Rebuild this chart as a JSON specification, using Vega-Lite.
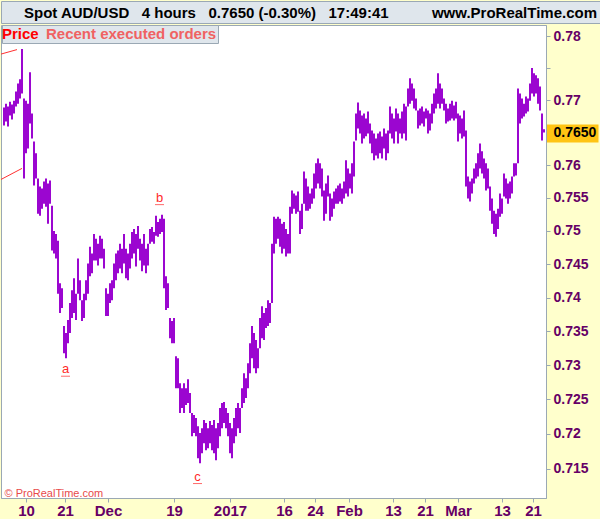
{
  "$schema": "https://vega.github.io/schema/vega-lite/v6.json",
  "background": "#ffffcc",
  "padding": 0,
  "spacing": 0,
  "config": {"font": "Liberation Sans"},
  "resolve": {"legend": {"color": "independent"}, "scale": {"color": "independent"}},
  "vconcat": [
    {
      "width": 600,
      "height": 22,
      "view": {"fill": "#dfe6ec", "stroke": "#9aa8b4"},
      "data": {"values": [
        {"side": "left", "t": "Spot AUD/USD\u00a0\u00a0\u00a04 hours\u00a0\u00a0\u00a00.7650 (-0.30%)\u00a0\u00a0\u00a017:49:41"},
        {"side": "right", "t": "www.ProRealTime.com"}
      ]},
      "encoding": {
        "x": {"field": "side", "type": "nominal", "scale": {"type": "point", "domain": ["left", "right"], "padding": 0}, "axis": null},
        "text": {"field": "t"}
      },
      "layer": [
        {"transform": [{"filter": "datum.side === 'left'"}], "mark": {"type": "text", "align": "left", "baseline": "middle", "dx": 23, "dy": 1, "fontSize": 15, "fontWeight": "bold", "color": "#000000"}},
        {"transform": [{"filter": "datum.side === 'right'"}], "mark": {"type": "text", "align": "right", "baseline": "middle", "dx": -4, "dy": 1, "fontSize": 15, "fontWeight": "bold", "color": "#000000"}}
      ]
    },
    {
      "width": 545,
      "height": 473,
      "view": {"fill": "#ffffff", "stroke": "#9aa8b4"},
      "layer": [
        {
          "data": {"values": [
{"i":1,"h":0.76885,"l":0.76609},{"i":2,"h":0.76946,"l":0.7667},{"i":3,"h":0.769,"l":0.76594},{"i":4,"h":0.76977,"l":0.76762},{"i":5,"h":0.76931,"l":0.76701},{"i":6,"h":0.76992,"l":0.76793},{"i":7,"h":0.77134,"l":0.769},{"i":8,"h":0.7726,"l":0.76946},{"i":9,"h":0.77323,"l":0.77024},{"i":10,"h":0.77795,"l":0.77102},
{"i":11,"h":0.77024,"l":0.75797},{"i":12,"h":0.76992,"l":0.7618},{"i":13,"h":0.76946,"l":0.76256},{"i":14,"h":0.77433,"l":0.7664},{"i":15,"h":0.76793,"l":0.7641},{"i":16,"h":0.76364,"l":0.75689},{"i":17,"h":0.7618,"l":0.75797},{"i":18,"h":0.75797,"l":0.7526},{"i":19,"h":0.75674,"l":0.75229},{"i":20,"h":0.75643,"l":0.75337},
{"i":21,"h":0.75751,"l":0.75413},{"i":22,"h":0.75797,"l":0.75367},{"i":23,"h":0.7572,"l":0.75107},{"i":24,"h":0.75766,"l":0.75413},{"i":25,"h":0.75383,"l":0.74704},{"i":26,"h":0.75,"l":0.74659},{"i":27,"h":0.74956,"l":0.74585},{"i":28,"h":0.74852,"l":0.7406},{"i":29,"h":0.74215,"l":0.73771},{"i":30,"h":0.7414,"l":0.73845},
{"i":31,"h":0.73578,"l":0.73178},{"i":32,"h":0.73475,"l":0.73104},{"i":33,"h":0.73667,"l":0.73326},{"i":34,"h":0.73919,"l":0.73475},{"i":35,"h":0.74111,"l":0.73697},{"i":36,"h":0.74289,"l":0.73771},{"i":37,"h":0.7406,"l":0.73667},{"i":38,"h":0.74585,"l":0.7406},{"i":39,"h":0.7426,"l":0.73963},{"i":40,"h":0.73963,"l":0.73652},
{"i":41,"h":0.7406,"l":0.73697},{"i":42,"h":0.7426,"l":0.73963},{"i":43,"h":0.74511,"l":0.7406},{"i":44,"h":0.74763,"l":0.74319},{"i":45,"h":0.74659,"l":0.74363},{"i":46,"h":0.74956,"l":0.74556},{"i":47,"h":0.74882,"l":0.74556},{"i":48,"h":0.74807,"l":0.74482},{"i":49,"h":0.74926,"l":0.74585},{"i":50,"h":0.74882,"l":0.74585},
{"i":51,"h":0.74733,"l":0.74437},{"i":52,"h":0.7414,"l":0.73726},{"i":53,"h":0.7406,"l":0.73726},{"i":54,"h":0.74215,"l":0.73919},{"i":55,"h":0.7426,"l":0.73963},{"i":56,"h":0.74511,"l":0.7414},{"i":57,"h":0.74659,"l":0.7426},{"i":58,"h":0.74704,"l":0.74363},{"i":59,"h":0.74807,"l":0.74437},{"i":60,"h":0.74733,"l":0.74363},
{"i":61,"h":0.74956,"l":0.74511},{"i":62,"h":0.74733,"l":0.74289},{"i":63,"h":0.74659,"l":0.7426},{"i":64,"h":0.74807,"l":0.74437},{"i":65,"h":0.74985,"l":0.74585},{"i":66,"h":0.7503,"l":0.74659},{"i":67,"h":0.74956,"l":0.74467},{"i":68,"h":0.75076,"l":0.74733},{"i":69,"h":0.74882,"l":0.74556},{"i":70,"h":0.74807,"l":0.74393},
{"i":71,"h":0.74956,"l":0.74482},{"i":72,"h":0.74733,"l":0.74363},{"i":73,"h":0.74807,"l":0.74482},{"i":74,"h":0.7503,"l":0.74807},{"i":75,"h":0.75061,"l":0.74837},{"i":76,"h":0.74985,"l":0.74807},{"i":77,"h":0.75229,"l":0.74926},{"i":78,"h":0.75137,"l":0.74911},{"i":79,"h":0.75183,"l":0.74956},{"i":80,"h":0.75245,"l":0.74985},
{"i":81,"h":0.75183,"l":0.7414},{"i":82,"h":0.74319,"l":0.73815},{"i":83,"h":0.74215,"l":0.73845},{"i":84,"h":0.73697,"l":0.734},{"i":85,"h":0.73652,"l":0.73326},{"i":86,"h":0.73697,"l":0.73326},{"i":87,"h":0.73134,"l":0.72665},{"i":88,"h":0.73104,"l":0.72665},{"i":89,"h":0.72738,"l":0.72302},{"i":90,"h":0.72665,"l":0.72374},
{"i":91,"h":0.72738,"l":0.72302},{"i":92,"h":0.72665,"l":0.72418},{"i":93,"h":0.72796,"l":0.72447},{"i":94,"h":0.72593,"l":0.72302},{"i":95,"h":0.72302,"l":0.71967},{"i":96,"h":0.72273,"l":0.72011},{"i":97,"h":0.72229,"l":0.71967},{"i":98,"h":0.72112,"l":0.71647},{"i":99,"h":0.72011,"l":0.71574},{"i":100,"h":0.72083,"l":0.7172},
{"i":101,"h":0.722,"l":0.71865},{"i":102,"h":0.72156,"l":0.71763},{"i":103,"h":0.72083,"l":0.71792},{"i":104,"h":0.72185,"l":0.71865},{"i":105,"h":0.72127,"l":0.71763},{"i":106,"h":0.722,"l":0.7172},{"i":107,"h":0.72083,"l":0.71618},{"i":108,"h":0.72156,"l":0.71792},{"i":109,"h":0.72374,"l":0.71967},{"i":110,"h":0.72447,"l":0.72083},
{"i":111,"h":0.72462,"l":0.72156},{"i":112,"h":0.72374,"l":0.72083},{"i":113,"h":0.72302,"l":0.71967},{"i":114,"h":0.72156,"l":0.7172},{"i":115,"h":0.72083,"l":0.71647},{"i":116,"h":0.72229,"l":0.71865},{"i":117,"h":0.72374,"l":0.71967},{"i":118,"h":0.72447,"l":0.72083},{"i":119,"h":0.72374,"l":0.72011},{"i":120,"h":0.72665,"l":0.72374},
{"i":121,"h":0.72884,"l":0.72447},{"i":122,"h":0.72811,"l":0.7252},{"i":123,"h":0.7303,"l":0.72665},{"i":124,"h":0.73326,"l":0.72884},{"i":125,"h":0.73578,"l":0.73104},{"i":126,"h":0.73475,"l":0.72956},{"i":127,"h":0.73371,"l":0.72884},{"i":128,"h":0.73252,"l":0.72956},{"i":129,"h":0.73697,"l":0.73252},{"i":130,"h":0.73874,"l":0.734},
{"i":131,"h":0.73771,"l":0.73371},{"i":132,"h":0.73845,"l":0.73549},{"i":133,"h":0.73963,"l":0.73578},{"i":134,"h":0.73919,"l":0.73623},{"i":135,"h":0.74807,"l":0.73919},{"i":136,"h":0.75214,"l":0.74659},{"i":137,"h":0.75183,"l":0.74807},{"i":138,"h":0.75214,"l":0.74882},{"i":139,"h":0.75183,"l":0.74763},{"i":140,"h":0.75107,"l":0.74659},
{"i":141,"h":0.75137,"l":0.74733},{"i":142,"h":0.7503,"l":0.74615},{"i":143,"h":0.74956,"l":0.74659},{"i":144,"h":0.75367,"l":0.74659},{"i":145,"h":0.75613,"l":0.7526},{"i":146,"h":0.75567,"l":0.75337},{"i":147,"h":0.75536,"l":0.7526},{"i":148,"h":0.75597,"l":0.75291},{"i":149,"h":0.75306,"l":0.74956},{"i":150,"h":0.75413,"l":0.7503},
{"i":151,"h":0.75904,"l":0.75413},{"i":152,"h":0.75797,"l":0.75306},{"i":153,"h":0.75674,"l":0.75306},{"i":154,"h":0.75567,"l":0.75337},{"i":155,"h":0.75643,"l":0.75413},{"i":156,"h":0.75873,"l":0.7549},{"i":157,"h":0.76027,"l":0.75643},{"i":158,"h":0.76103,"l":0.7572},{"i":159,"h":0.76027,"l":0.75643},{"i":160,"h":0.7595,"l":0.75521},
{"i":161,"h":0.75613,"l":0.75153},{"i":162,"h":0.7572,"l":0.7526},{"i":163,"h":0.75843,"l":0.75521},{"i":164,"h":0.75567,"l":0.75153},{"i":165,"h":0.7549,"l":0.75214},{"i":166,"h":0.75597,"l":0.75337},{"i":167,"h":0.75643,"l":0.75413},{"i":168,"h":0.75689,"l":0.75413},{"i":169,"h":0.7572,"l":0.75444},{"i":170,"h":0.75643,"l":0.75413},
{"i":171,"h":0.75751,"l":0.7549},{"i":172,"h":0.76073,"l":0.75567},{"i":173,"h":0.7595,"l":0.75521},{"i":174,"h":0.75873,"l":0.75643},{"i":175,"h":0.76027,"l":0.75567},{"i":176,"h":0.76364,"l":0.75827},{"i":177,"h":0.76793,"l":0.76379},{"i":178,"h":0.76962,"l":0.76563},{"i":179,"h":0.76839,"l":0.76486},{"i":180,"h":0.76762,"l":0.76333},
{"i":181,"h":0.76793,"l":0.7641},{"i":182,"h":0.76716,"l":0.76441},{"i":183,"h":0.76824,"l":0.76486},{"i":184,"h":0.7664,"l":0.76333},{"i":185,"h":0.76532,"l":0.7618},{"i":186,"h":0.76486,"l":0.76073},{"i":187,"h":0.7641,"l":0.76149},{"i":188,"h":0.76486,"l":0.76103},{"i":189,"h":0.76517,"l":0.7618},{"i":190,"h":0.7644,"l":0.76103},
{"i":191,"h":0.76563,"l":0.76256},{"i":192,"h":0.76486,"l":0.76073},{"i":193,"h":0.76532,"l":0.7618},{"i":194,"h":0.769,"l":0.76486},{"i":195,"h":0.76793,"l":0.7641},{"i":196,"h":0.76716,"l":0.76333},{"i":197,"h":0.7687,"l":0.76517},{"i":198,"h":0.76793,"l":0.76333},{"i":199,"h":0.76716,"l":0.76486},{"i":200,"h":0.76824,"l":0.7641},
{"i":201,"h":0.76946,"l":0.76486},{"i":202,"h":0.769,"l":0.76379},{"i":203,"h":0.77181,"l":0.769},{"i":204,"h":0.77339,"l":0.76946},{"i":205,"h":0.7726,"l":0.76992},{"i":206,"h":0.77181,"l":0.7687},{"i":207,"h":0.77024,"l":0.76839},{"i":208,"h":0.76839,"l":0.76563},{"i":209,"h":0.7687,"l":0.76609},{"i":210,"h":0.769,"l":0.7664},
{"i":211,"h":0.76824,"l":0.76594},{"i":212,"h":0.7687,"l":0.76716},{"i":213,"h":0.76839,"l":0.76486},{"i":214,"h":0.76793,"l":0.76532},{"i":215,"h":0.76946,"l":0.7664},{"i":216,"h":0.77102,"l":0.76793},{"i":217,"h":0.77181,"l":0.7687},{"i":218,"h":0.77417,"l":0.76946},{"i":219,"h":0.7726,"l":0.7687},{"i":220,"h":0.77181,"l":0.76946},
{"i":221,"h":0.77024,"l":0.76839},{"i":222,"h":0.76946,"l":0.7664},{"i":223,"h":0.7687,"l":0.7667},{"i":224,"h":0.76946,"l":0.76686},{"i":225,"h":0.76992,"l":0.76716},{"i":226,"h":0.76916,"l":0.76686},{"i":227,"h":0.76977,"l":0.76716},{"i":228,"h":0.76793,"l":0.76364},{"i":229,"h":0.76762,"l":0.76486},{"i":230,"h":0.76716,"l":0.7641},
{"i":231,"h":0.76839,"l":0.7644},{"i":232,"h":0.76532,"l":0.75674},{"i":233,"h":0.75827,"l":0.7549},{"i":234,"h":0.75751,"l":0.75444},{"i":235,"h":0.75797,"l":0.75567},{"i":236,"h":0.7595,"l":0.7572},{"i":237,"h":0.76027,"l":0.75797},{"i":238,"h":0.7618,"l":0.75827},{"i":239,"h":0.76333,"l":0.7595},{"i":240,"h":0.76211,"l":0.75873},
{"i":241,"h":0.76103,"l":0.75797},{"i":242,"h":0.76027,"l":0.75613},{"i":243,"h":0.7595,"l":0.75643},{"i":244,"h":0.75674,"l":0.75306},{"i":245,"h":0.7549,"l":0.75107},{"i":246,"h":0.75306,"l":0.74956},{"i":247,"h":0.7526,"l":0.74911},{"i":248,"h":0.75337,"l":0.7503},{"i":249,"h":0.75567,"l":0.75214},{"i":250,"h":0.7549,"l":0.7526},
{"i":251,"h":0.75873,"l":0.75521},{"i":252,"h":0.75797,"l":0.7549},{"i":253,"h":0.7572,"l":0.75413},{"i":254,"h":0.75751,"l":0.7549},{"i":255,"h":0.75827,"l":0.75567},{"i":256,"h":0.76027,"l":0.75827},{"i":257,"h":0.76027,"l":0.75843},{"i":258,"h":0.77181,"l":0.76027},{"i":259,"h":0.77102,"l":0.7664},{"i":260,"h":0.77024,"l":0.76716},
{"i":261,"h":0.76946,"l":0.76747},{"i":262,"h":0.77055,"l":0.76793},{"i":263,"h":0.77024,"l":0.76824},{"i":264,"h":0.7726,"l":0.76992},{"i":265,"h":0.775,"l":0.77102},{"i":266,"h":0.77417,"l":0.77055},{"i":267,"h":0.77386,"l":0.77102},{"i":268,"h":0.77339,"l":0.76946},{"i":269,"h":0.77213,"l":0.76839},{"i":270,"h":0.76793,"l":0.76379},
{"i":271,"h":0.7655,"l":0.765}
          ]},
          "mark": {"type": "rule", "strokeWidth": 2},
          "encoding": {
            "x": {
              "field": "i", "type": "quantitative",
              "scale": {"domain": [-0.5, 272], "nice": false, "zero": false},
              "axis": {
                "orient": "bottom",
                "values": [12, 31.5, 53, 86, 114, 141, 156.5, 173.5, 195.5, 211.5, 228, 250, 265.5],
                "labelExpr": "datum.value==12?'10':datum.value==31.5?'21':datum.value==53?'Dec':datum.value==86?'19':datum.value==114?'2017':datum.value==141?'16':datum.value==156.5?'24':datum.value==173.5?'Feb':datum.value==195.5?'13':datum.value==211.5?'21':datum.value==228?'Mar':datum.value==250?'13':'21'",
                "grid": false,
                "domainColor": "#9aa8b4",
                "tickColor": "#9aa8b4",
                "tickSize": 4,
                "labelColor": "#660066",
                "labelFont": "Liberation Sans",
                "labelFontSize": 15,
                "labelFontWeight": "bold",
                "labelPadding": 1,
                "labelFlush": false,
                "labelOverlap": false,
                "minExtent": 24,
                "maxExtent": 24,
                "title": "© ProRealTime.com",
                "titleX": 3,
                "titleY": -2,
                "titleAlign": "left",
                "titleAnchor": "start",
                "titleBaseline": "alphabetic",
                "titleColor": "#e84a4a",
                "titleFont": "Liberation Sans",
                "titleFontSize": 11,
                "titleFontWeight": "normal"
              }
            },
            "y": {
              "field": "h", "type": "quantitative",
              "scale": {"type": "log", "domain": [0.71077, 0.78173], "nice": false, "zero": false},
              "axis": {
                "orient": "right",
                "title": null,
                "values": [0.715, 0.72, 0.725, 0.73, 0.735, 0.74, 0.745, 0.75, 0.755, 0.76, 0.765, 0.77, 0.775, 0.78],
                "labelExpr": "datum.value==0.775?'':datum.value==0.765?'0.7650':format(datum.value,'.3~f')",
                "grid": false,
                "domainColor": "#9aa8b4",
                "tickColor": {"condition": {"test": "datum.value == 0.765", "value": "#ffc414"}, "value": "#9aa8b4"},
                "tickWidth": {"condition": {"test": "datum.value == 0.765", "value": 18}, "value": 1},
                "tickSize": {"condition": {"test": "datum.value == 0.765", "value": 52}, "value": 4},
                "labelPadding": {"condition": {"test": "datum.value == 0.765", "value": -45}, "value": 3},
                "labelColor": {"condition": {"test": "datum.value == 0.765", "value": "#000000"}, "value": "#660066"},
                "labelFont": "Liberation Sans",
                "labelFontSize": 14,
                "labelFontWeight": "bold",
                "labelBaseline": "middle",
                "labelFlush": false,
                "labelOverlap": false,
                "minExtent": 55,
                "maxExtent": 55
              }
            },
            "y2": {"field": "l"},
            "color": {
              "datum": "Price", "type": "nominal",
              "scale": {"domain": ["Price", "Recent executed orders"], "range": ["#9b06d0", "#ff3030"]},
              "legend": {
                "orient": "none",
                "legendX": 1,
                "legendY": 0,
                "direction": "horizontal",
                "title": null,
                "symbolType": "circle",
                "symbolSize": 0,
                "symbolOpacity": 0,
                "symbolStrokeWidth": 0,
                "labelFont": "Liberation Sans",
                "labelFontSize": 15,
                "labelFontWeight": "bold",
                "labelOffset": -16,
                "columnPadding": 7,
                "padding": 1,
                "fillColor": "#dfe6ec",
                "strokeColor": "#9aa8b4",
                "labelLimit": 300,
                "encode": {"labels": {"update": {"fill": {"signal": "datum.label === 'Price' ? '#ff0000' : '#f06262'"}}}}
              }
            }
          }
        },
        {
          "data": {"values": [
            {"g": "u", "i": -0.5, "p": 0.77717}, {"g": "u", "i": 7.5, "p": 0.77787},
            {"g": "d", "i": -0.5, "p": 0.75781}, {"g": "d", "i": 10, "p": 0.7595}
          ]},
          "mark": {"type": "line", "strokeWidth": 1, "clip": true},
          "encoding": {
            "x": {"field": "i", "type": "quantitative"},
            "y": {"field": "p", "type": "quantitative"},
            "detail": {"field": "g"},
            "color": {"datum": "Recent executed orders", "type": "nominal"}
          }
        },
        {
          "data": {"values": [
            {"i": 31.75, "p": 0.72884, "t": "a"},
            {"i": 78.75, "p": 0.75444, "t": "b"},
            {"i": 97.75, "p": 0.71327, "t": "c"}
          ]},
          "layer": [
            {
              "mark": {"type": "text", "baseline": "alphabetic", "align": "center", "fontSize": 13, "color": "#ff2a2a", "font": "Liberation Sans"},
              "encoding": {
                "x": {"field": "i", "type": "quantitative"},
                "y": {"field": "p", "type": "quantitative"},
                "text": {"field": "t"}
              }
            },
            {
              "mark": {"type": "tick", "orient": "horizontal", "size": 9, "thickness": 1, "yOffset": 3, "color": "#ff2a2a"},
              "encoding": {
                "x": {"field": "i", "type": "quantitative"},
                "y": {"field": "p", "type": "quantitative"}
              }
            }
          ]
        }
      ]
    }
  ]
}
